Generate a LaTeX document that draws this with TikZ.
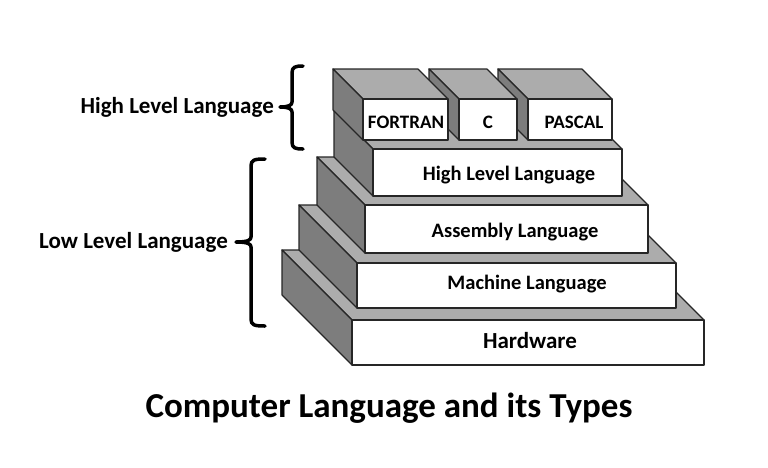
\documentclass[tikz,border=0pt]{standalone}
\usepackage{fontspec}
\setmainfont{Carlito}
\definecolor{sidegray}{RGB}{125,125,125}
\definecolor{topgray}{RGB}{172,172,172}
\tikzset{
  face/.style={draw=black!85, line width=1.2pt, line join=round},
  brace/.style={line width=3.5pt, line cap=round, line join=round},
  lbl/.style={font=\bfseries\fontsize{#1}{#1}\selectfont, anchor=base, inner sep=0pt},
  sidelbl/.style={font=\bfseries\fontsize{23}{26}\selectfont, anchor=east, inner sep=0pt},
}
% front face corners x1,y1,x2,y2 and depth
\newcommand{\slab}[5]{%
  \filldraw[fill=topgray, face] (#1,#2) -- (#3,#2) -- ++(-#5,-#5) -- (#1-#5,#2-#5) -- cycle;
  \filldraw[fill=sidegray, face] (#1,#2) -- (#1,#4) -- ++(-#5,-#5) -- (#1-#5,#2-#5) -- cycle;
  \filldraw[fill=white, face] (#1,#2) rectangle (#3,#4);
}
\begin{document}
\begin{tikzpicture}[x=1pt,y=-1pt]
  \useasboundingbox (0,0) rectangle (768,467);
  % stacked layers, bottom first
  \foreach \xa/\ya/\xb/\yb/\d/\lx/\ly/\fs/\txt [count=\i] in {
      352/320/704/365/70/530/348/23/Hardware,
      357/263/676/308/58/527/289/20.5/Machine Language,
      365/205/648/253/48/515/237/20.5/Assembly Language,
      373/149/622/196/39/509/180/20.5/High Level Language} {
    \slab{\xa}{\ya}{\xb}{\yb}{\d}
    \node[lbl=\fs] (layer\i) at (\lx,\ly) {\txt};
  }
  % language blocks, right to left
  \foreach \xa/\xb/\lx/\txt [count=\i] in {528/612/574/PASCAL, 459/517/488/C, 363/448/406/FORTRAN} {
    \slab{\xa}{99}{\xb}{140}{30}
    \node[lbl=19] (lang\i) at (\lx,128) {\txt};
  }
  % braces
  \node[sidelbl] (high) at (274,107) {High Level Language};
  \node[sidelbl] (low) at (228,242) {Low Level Language};
  \coordinate (hightip) at ([xshift=6pt]high.east);
  \coordinate (lowtip) at ([xshift=8pt]low.east);
  \draw[brace] (303,66) .. controls (295,66) and (292,67) .. (292,73) -- (292,102)
    .. controls (292,105) and (289,107) .. (hightip) .. controls (289,107) and (292,109) .. (292,112)
    -- (292,142) .. controls (292,148) and (295,149) .. (303,149);
  \draw[brace] (265,159) .. controls (254,159) and (251,160) .. (251,166) -- (251,237)
    .. controls (251,240) and (248,242) .. (lowtip) .. controls (248,242) and (251,244) .. (251,247)
    -- (251,319) .. controls (251,325) and (254,326) .. (265,326);
  \node[font=\bfseries\fontsize{35}{38}\selectfont, anchor=base] (title) at (389,417) {Computer Language and its Types};
\end{tikzpicture}
\end{document}
